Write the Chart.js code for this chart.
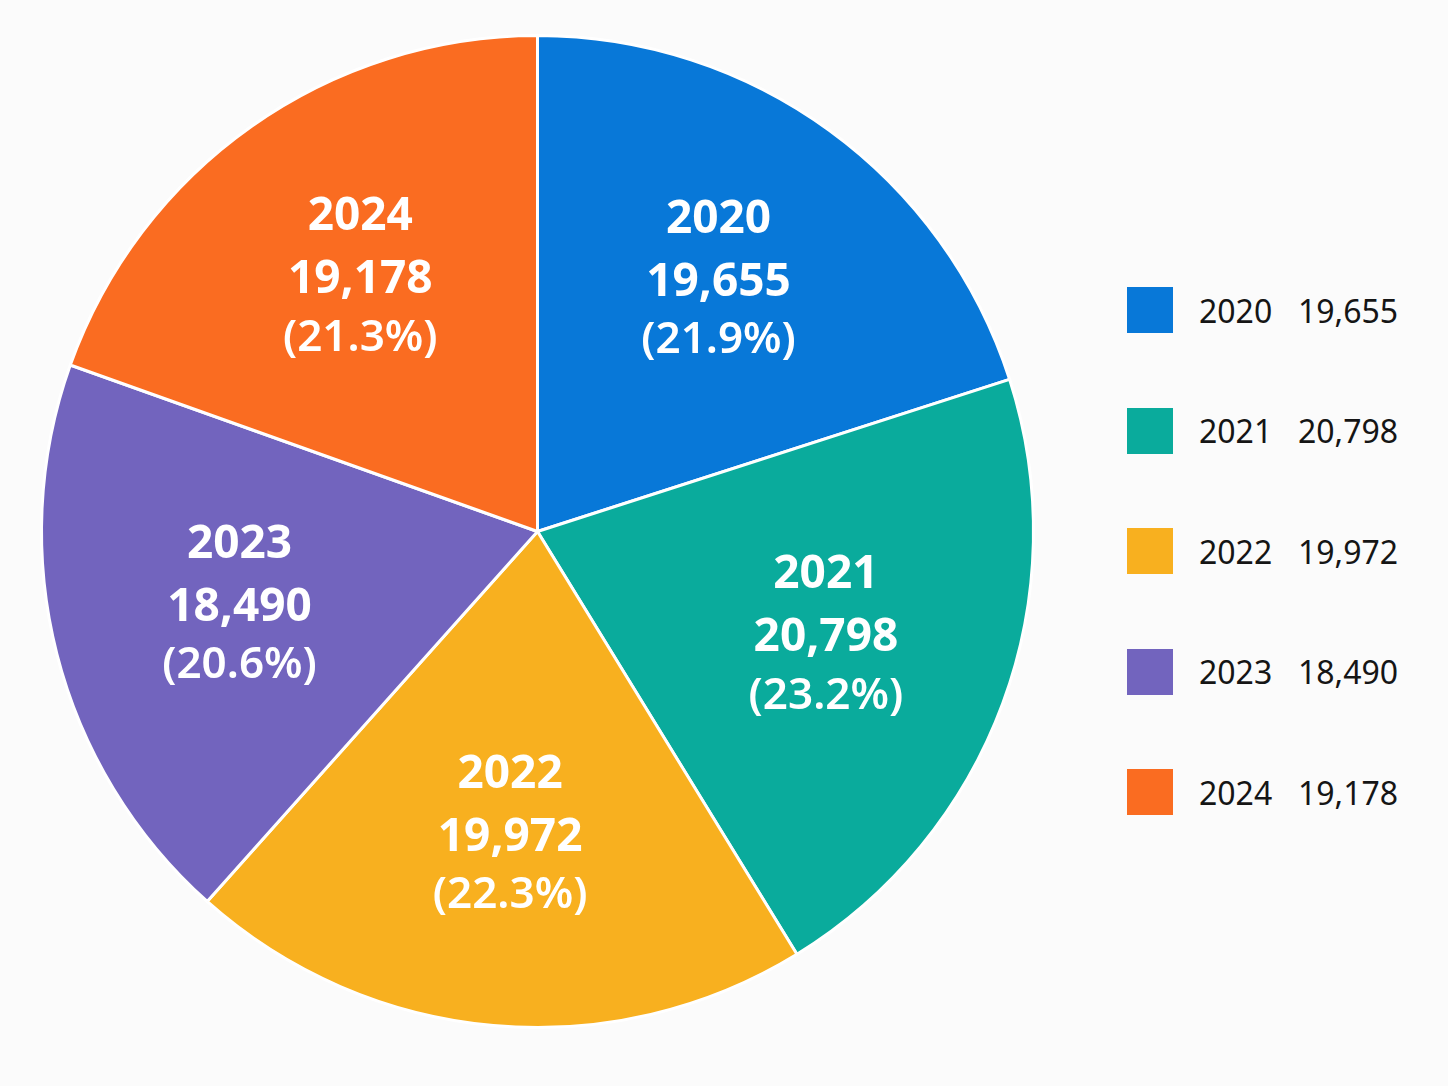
<!DOCTYPE html>
<html>
<head>
<meta charset="utf-8">
<title>Pie chart 2020-2024</title>
<script src="https://cdn.jsdelivr.net/npm/chart.js@4.4.1/dist/chart.umd.min.js"></script>
<style>
  body { margin: 0; background: #fbfbfb; font-family: "Noto Sans", sans-serif; }
  #wrap { position: relative; width: 1448px; height: 1086px; overflow: hidden; }
  #chartBox { position: absolute; left: 0; top: 0; width: 1075px; height: 1086px; }
  .legend-row { position: absolute; left: 1127px; height: 46px; display: flex; align-items: center; }
  .legend-box { width: 46px; height: 46px; margin-right: 26px; }
  .legend-year { width: 99px; font-size: 32px; color: #151515; }
  .legend-value { font-size: 32px; color: #151515; }
</style>
</head>
<body>
<div id="wrap">
  <div id="chartBox"><canvas id="pieChart"></canvas></div>
  <div id="legend"></div>
</div>
<script>
// data
const years = ["2020", "2021", "2022", "2023", "2024"];
const counts = [19655, 20798, 19972, 18490, 19178];
const shares = ["21.9%", "23.2%", "22.3%", "20.6%", "21.3%"];
const colors = ["#0878d8", "#0aab9c", "#f8b01f", "#7264be", "#fa6c21"];

const fmt = (n) => n.toLocaleString("en-US");

// draw the three-line labels inside each slice
const sliceLabels = {
  id: "sliceLabels",
  afterDatasetsDraw(chart) {
    const { ctx } = chart;
    const arcs = chart.getDatasetMeta(0).data;
    ctx.save();
    ctx.fillStyle = "#ffffff";
    ctx.textAlign = "center";
    ctx.textBaseline = "middle";
    arcs.forEach((arc, i) => {
      const { x, y, startAngle, endAngle, outerRadius } = arc.getProps(
        ["x", "y", "startAngle", "endAngle", "outerRadius"], true);
      const mid = (startAngle + endAngle) / 2;
      const r = outerRadius * 0.62;
      const cx = x + Math.cos(mid) * r;
      const cy = y + Math.sin(mid) * r;
      ctx.font = "bold 46px 'Noto Sans'";
      ctx.fillText(years[i], cx, cy - 63);
      ctx.fillText(fmt(counts[i]), cx, cy);
      ctx.font = "600 44px 'Noto Sans'";
      ctx.fillText("(" + shares[i] + ")", cx, cy + 58);
    });
    ctx.restore();
  },
};

const legend = document.getElementById("legend");
years.forEach((year, i) => {
  const row = document.createElement("div");
  row.className = "legend-row";
  row.style.top = (287 + i * 120.5) + "px";
  row.innerHTML =
    '<div class="legend-box" style="background:' + colors[i] + '"></div>' +
    '<span class="legend-year">' + year + "</span>" +
    '<span class="legend-value">' + fmt(counts[i]) + "</span>";
  legend.appendChild(row);
});

new Chart(document.getElementById("pieChart"), {
  type: "pie",
  data: {
    labels: years,
    datasets: [
      {
        data: counts,
        backgroundColor: colors,
        borderColor: "#ffffff",
        borderWidth: 3,
      },
    ],
  },
  options: {
    responsive: true,
    maintainAspectRatio: false,
    animation: false,
    layout: { padding: { top: 34, bottom: 57, left: 40, right: 40 } },
    plugins: {
      legend: { display: false },
      tooltip: { enabled: false },
    },
  },
  plugins: [sliceLabels],
});
</script>
</body>
</html>
